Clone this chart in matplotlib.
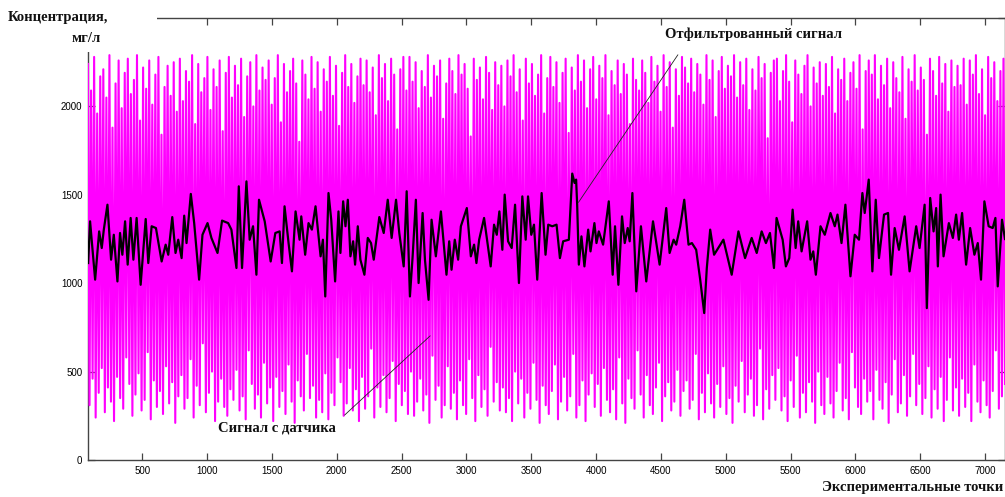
import numpy as np
import matplotlib
matplotlib.use('Agg')
import matplotlib.pyplot as plt
from matplotlib.patches import Rectangle

# Сигнал с датчика, значения в десятках мг/л
raw_str = """
224 31 209 46 228 24 196 38 217 52 221 27 205 41 229 33 188 22 213 47 226 35 199 29 219 58 227 43 207 25
215 37 229 49 192 28 222 34 210 61 226 23 201 45 218 30 228 39 184 26 211 53 223 32 206 44 225 21 197 36
227 48 203 29 220 35 214 57 229 24 190 42 224 31 208 66 216 27 228 38 198 50 221 22 211 33 226 46 186 30
219 25 228 40 205 34 223 51 212 28 227 36 194 23 217 62 225 43 200 29 229 37 209 24 222 55 215 32 226 41
201 22 216 47 229 30 191 39 224 26 208 54 220 33 227 21 213 45 180 36 226 28 218 60 204 35 228 42 210 24
225 34 197 27 221 49 214 23 228 38 206 31 223 58 189 44 219 25 229 32 211 52 224 28 202 40 217 22 227 47
212 29 226 36 208 63 222 24 195 41 229 30 216 48 224 27 203 35 227 56 218 22 187 43 221 31 228 39 209 26
228 50 214 25 225 33 199 46 220 28 211 37 229 21 205 59 223 34 217 42 226 24 193 31 213 53 227 29 220 38
207 23 229 45 218 31 224 26 210 57 183 35 227 22 215 48 222 30 204 40 228 25 219 64 198 33 225 44 212 28
223 41 200 27 226 35 217 22 229 50 208 32 221 46 192 24 227 38 213 29 224 55 206 34 218 21 229 42 196 31
216 26 228 39 211 54 225 23 202 33 219 47 227 28 185 36 222 60 209 24 229 31 214 45 226 22 199 37 221 49
228 30 204 43 223 25 216 52 229 34 195 27 220 40 212 23 226 58 207 32 224 21 218 46 190 35 227 29 215 62
209 37 226 24 219 48 202 31 228 26 214 41 223 55 197 22 229 36 211 44 225 28 188 33 221 51 206 25 228 39
222 45 213 29 227 34 208 60 224 23 218 38 201 27 229 49 215 32 226 24 194 43 220 30 228 53 210 26 223 35
217 21 229 42 205 33 225 56 212 27 227 37 198 46 221 25 209 31 228 63 216 23 224 40 182 29 219 48 226 34
227 52 203 28 220 36 229 22 214 45 191 30 226 59 218 24 207 38 223 27 229 44 200 33 222 21 213 50 225 31
206 26 224 47 211 32 228 24 196 39 221 55 215 28 227 35 203 23 219 61 225 41 210 30 229 26 187 46 220 33
226 39 218 23 229 51 204 34 223 29 212 44 227 21 199 37 225 57 216 27 208 32 228 48 193 25 221 36 214 60
229 31 209 43 222 26 215 35 184 53 227 24 220 40 206 29 228 47 213 22 224 34 197 58 226 28 211 41 223 25
212 46 227 30 201 38 226 22 218 54 229 33 207 27 221 45 195 31 228 24 216 39 225 62 203 29 220 36 227 43
"""
raw_y = np.array(raw_str.split(), dtype=float) * 10
raw_x = np.linspace(81, 7154, len(raw_y))

# Отфильтрованный сигнал (экстремумы)
filt_x = [82, 97, 115, 136, 167, 187, 203, 231, 259, 280, 308, 328, 346, 367, 387, 410, 431, 456, 487, 526,
          546, 572, 605, 649, 680, 700, 731, 756, 777, 803, 823, 841, 874, 900, 938, 964, 1003, 1033, 1080, 1115,
          1162, 1187, 1226, 1244, 1269, 1303, 1328, 1354, 1380, 1400, 1444, 1490, 1526, 1559, 1577, 1597, 1628, 1654, 1682, 1713,
          1726, 1756, 1782, 1808, 1836,
          1859, 1875, 1893, 1911, 1936, 1957, 1987, 2013, 2028, 2049, 2067, 2085, 2105, 2126, 2141, 2162, 2182, 2213, 2239, 2264,
          2285, 2328, 2362, 2393, 2423, 2457, 2482, 2516, 2539, 2564, 2585, 2610, 2631, 2662, 2680, 2708, 2731, 2764, 2803, 2846,
          2867, 2885, 2910, 2936, 2957, 3003, 3034, 3059, 3077, 3098, 3136, 3187, 3213, 3234, 3254, 3277, 3295, 3321, 3349, 3375,
          3405, 3431, 3457, 3475, 3500, 3521, 3546, 3580, 3610, 3631,
          3662, 3695, 3721, 3746, 3790, 3816, 3834, 3846, 3854, 3867, 3887, 3910, 3939, 3957, 3987, 4003, 4021, 4054, 4098, 4128,
          4146, 4172, 4200, 4221, 4244, 4259, 4280, 4310, 4346, 4387, 4439, 4490, 4541, 4567, 4598, 4618, 4649, 4680, 4713, 4739,
          4772, 4803, 4834, 4854, 4880, 4910, 4982, 5046, 5098, 5149, 5200, 5239, 5277, 5310, 5341, 5372, 5392,
          5439, 5464, 5490, 5516, 5539, 5559, 5585, 5628, 5654, 5675, 5695, 5731, 5764, 5808, 5841, 5862, 5893, 5923, 5962, 5995,
          6028, 6054, 6072, 6103, 6131, 6157, 6182, 6221, 6252, 6275, 6303, 6336, 6380, 6418, 6469, 6495, 6534, 6551, 6577, 6603,
          6623, 6636, 6657, 6680, 6721, 6752, 6777, 6798, 6823, 6854, 6885, 6918, 6944, 6969, 6995, 7028, 7059, 7080, 7098, 7131,
          7154]
filt_y = [1114, 1350, 1199, 1020, 1293, 1199, 1303, 1444, 1133, 1274, 1010, 1284, 1161, 1350, 1105, 1369, 1133, 1369, 991, 1363,
          1114, 1322, 1312, 1123, 1218, 1161, 1374, 1171, 1246, 1142, 1382, 1227, 1505, 1340, 1020, 1274, 1340, 1256, 1171, 1354,
          1340, 1303, 1086, 1548, 1086, 1576, 1246, 1322, 1048, 1472, 1350, 1123, 1284, 1293, 1114, 1435, 1227, 1067, 1406, 1246,
          1378, 1161, 1340, 1303, 1435,
          1265, 1152, 1246, 925, 1510, 1359, 1010, 1406, 1171, 1463, 1322, 1472, 1152, 1237, 1105, 1322, 1133, 1048, 1256, 1227,
          1133, 1374, 1284, 1472, 1256, 1472, 1284, 1095, 1520, 925, 1152, 1472, 1001, 1397, 1133, 906, 1359, 1152, 1406, 1048,
          1237, 1076, 1246, 1133, 1322, 1425, 1152, 1218, 1114, 1246, 1369, 1095, 1331, 1274, 1406, 1189, 1501, 1237, 1199, 1444,
          1001, 1491, 1246, 1491, 1274, 1331, 1020, 1510, 1161, 1331,
          1322, 1331, 1142, 1237, 1246, 1620, 1567, 1586, 1444, 1105, 1265, 1095, 1303, 1180, 1340, 1227, 1293, 1218, 1463, 1048,
          1322, 991, 1378, 1227, 1312, 1237, 1510, 954, 1322, 1010, 1350, 1105, 1425, 1171, 1246, 1218, 1322, 1472, 1218, 1227,
          1189, 1020, 831, 1086, 1303, 1161, 1246, 1048, 1293, 1142, 1256, 1171, 1293, 1227, 1284, 1086, 1369,
          1246, 1095, 1142, 1416, 1199, 1350, 1180, 1350, 1133, 1180, 1048, 1322, 1274, 1397, 1322, 1388, 1227, 1444, 1039, 1274,
          1246, 1510, 1397, 1586, 1067, 1472, 1142, 1388, 1397, 1048, 1312, 1189, 1378, 1067, 1322, 1199, 1444, 859, 1482, 1293,
          1425, 1095, 1501, 1152, 1340, 1256, 1388, 1246, 1397, 1105, 1312, 1161, 1227, 1020, 1463, 1322, 1312, 1369, 982, 1359,
          1250]

x_ticks = [500, 1000, 1500, 2000, 2500, 3000, 3500, 4000, 4500, 5000, 5500, 6000, 6500, 7000]
y_ticks = [0, 500, 1000, 1500, 2000, 2500]
y_tick_labels = ['0', '500', '1000', '1500', '2000', '']

W, H = 1005, 497
fig = plt.figure(figsize=(W / 100, H / 100), dpi=100)
ax = fig.add_axes([88 / W, 37 / H, (W - 88) / W, (460 - 18) / H])

ax.plot(raw_x, raw_y, color='#ff00ff', lw=1.5, zorder=3)
ax.plot(filt_x, filt_y, color='black', lw=1.6, zorder=4)

ax.set_xlim(81, 7154)
ax.set_ylim(0, 2500)
ax.set_xticks(x_ticks)
ax.set_yticks(y_ticks)
ax.set_yticklabels(y_tick_labels)
ax.tick_params(direction='in', top=True, right=True, length=5, width=0.9,
               labelsize=7, color='#444444', pad=4)
for lab in ax.get_xticklabels() + ax.get_yticklabels():
    lab.set_fontfamily('Liberation Sans')
for s in ax.spines.values():
    s.set_color('#444444')
    s.set_linewidth(1.0)
    s.set_zorder(2)

# подписи-выноски
serif = dict(family='Liberation Serif', weight='bold', color='#111111')
ax.annotate('', xy=(3852, 1444), xytext=(4643, 2305),
            arrowprops=dict(arrowstyle='-', lw=0.6, color='#222222'), zorder=6)
ax.text(5213, 2407, 'Отфильтрованный сигнал', ha='center', va='center', fontsize=10.5, zorder=6, **serif)
ax.annotate('', xy=(2736, 713), xytext=(2044, 243),
            arrowprops=dict(arrowstyle='-', lw=0.6, color='#222222'), zorder=6)
ax.text(1536, 181, 'Сигнал с датчика', ha='center', va='center', fontsize=10.5, zorder=6, **serif)

# белая плашка под подписью оси Y
fig.add_artist(Rectangle((0, 1 - 52 / H), 157 / W, 52 / H, transform=fig.transFigure,
                         facecolor='white', edgecolor='none', zorder=10))
fig.text(108 / W, 1 - 18 / H, 'Концентрация,', ha='right', va='center', fontsize=10.5, zorder=11, **serif)
fig.text(101 / W, 1 - 38 / H, 'мг/л', ha='right', va='center', fontsize=10.5, zorder=11, **serif)
fig.text(1003 / W, 1 - 488 / H, 'Экспериментальные точки', ha='right', va='center', fontsize=10.5, **serif)

fig.savefig('out.png', dpi=100)
